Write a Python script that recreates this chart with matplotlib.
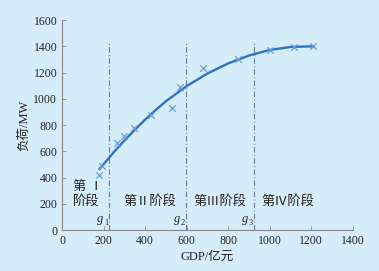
import matplotlib
matplotlib.use('Agg')
import matplotlib.pyplot as plt

# measured points (GDP, load)
gdp_pts = [178, 191, 263, 298, 348, 428, 528, 568, 677, 845, 1000, 1116, 1209]
load_pts = [419, 488, 660, 718, 775, 876, 932, 1087, 1232, 1303, 1371, 1397, 1404]

# fitted curve
curve_x = [180, 250, 300, 350, 400, 450, 500, 600, 700, 800, 900, 1000, 1100, 1210]
curve_y = [465, 596, 683, 764, 842, 914, 982, 1097, 1193, 1270, 1330, 1372, 1395, 1400]

# stage boundaries
g_x = [227, 595, 925]
g_names = ['1', '2', '3']
stage_labels = ['第Ⅱ阶段', '第Ⅲ阶段', '第Ⅳ阶段']
stage_x = [423, 760, 1087]

xticks = [0, 200, 400, 600, 800, 1000, 1200, 1400]
yticks = [0, 200, 400, 600, 800, 1000, 1200, 1400, 1600]

bg = '#d5ecf9'
fam = ['Liberation Serif', 'Noto Sans CJK SC']
plt.rcParams['font.family'] = fam

fig = plt.figure(figsize=(3.79, 2.71), dpi=100, facecolor=bg)
ax = fig.add_axes([0.164, 0.151, 0.767, 0.775], facecolor=bg)

for g in g_x:
    ax.plot([g, g], [0, 1430], color='#6c7a96', lw=0.8, ls=(0, (5, 2, 1, 2)))

ax.plot(curve_x, curve_y, color='#2f73c2', lw=1.7)
ax.scatter(gdp_pts, load_pts, marker='x', s=22, color='#6a9fd2', linewidths=0.9, zorder=3)

for g, n in zip(g_x, g_names):
    ax.text(g - 27, 60, 'g', style='italic', fontsize=9, ha='right', va='baseline', color='#222')
    ax.text(g - 26, 42, n, fontsize=6, ha='left', va='baseline', color='#222', zorder=4)

ax.text(52, 328, '第 Ⅰ', fontsize=9.5, ha='left', va='center', color='#222')
ax.text(52, 221, '阶段', fontsize=9.5, ha='left', va='center', color='#222')
for lab, sx in zip(stage_labels, stage_x):
    ax.text(sx, 221, lab, fontsize=9.5, ha='center', va='center', color='#222')

ax.set_xlim(0, 1400)
ax.set_ylim(0, 1600)
ax.set_xticks(xticks)
ax.set_yticks(yticks)
ax.tick_params(direction='in', length=3, width=0.6, colors='#888', labelcolor='#222', labelsize=8.5)
for s in ['top', 'right']:
    ax.spines[s].set_visible(False)
for s in ['left', 'bottom']:
    ax.spines[s].set_color('#888')
    ax.spines[s].set_linewidth(0.8)

ax.set_xlabel('GDP/亿元', fontsize=9, color='#222', labelpad=3)
ax.set_ylabel('负荷/MW', fontsize=9, color='#222', labelpad=2)

fig.savefig('out.png', dpi=100, facecolor=bg)
